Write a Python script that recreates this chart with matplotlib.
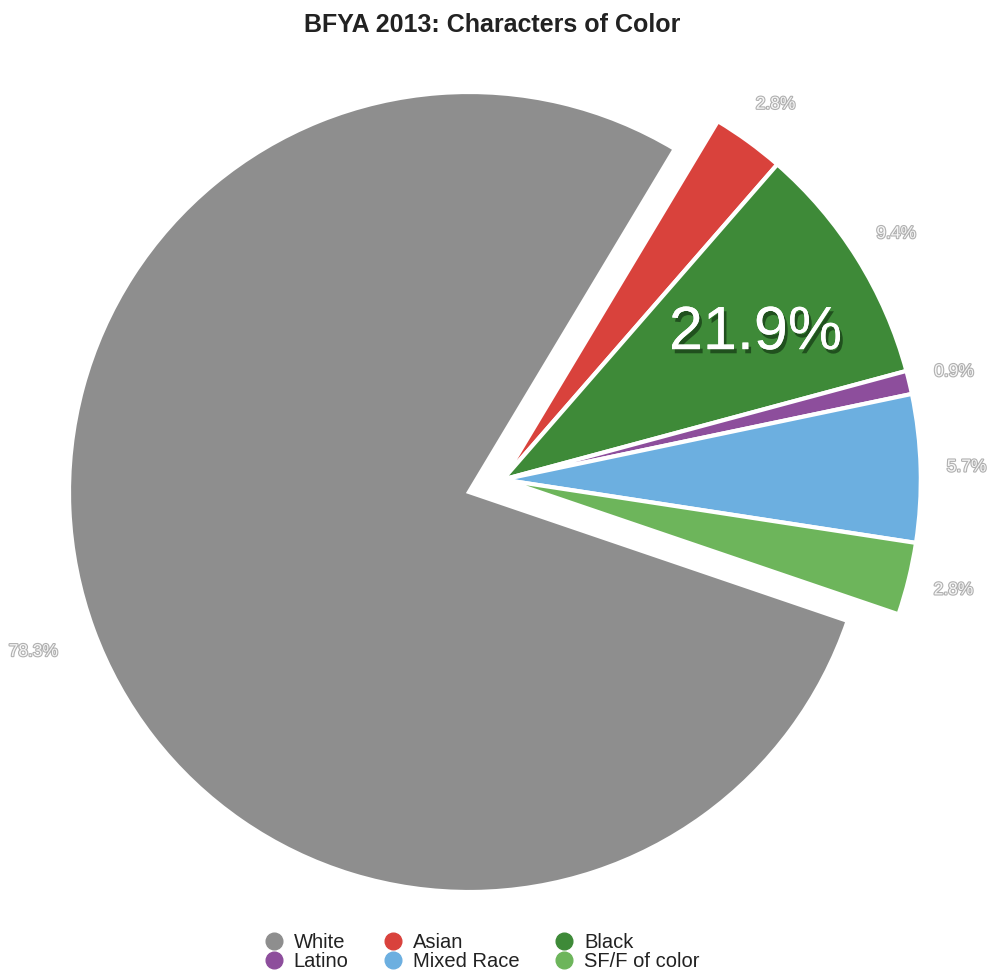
import matplotlib
matplotlib.use("Agg")
import matplotlib.pyplot as plt
import matplotlib.patheffects as pe
from matplotlib.lines import Line2D
import numpy as np

# data
categories = ['White', 'Asian', 'Black', 'Latino', 'Mixed Race', 'SF/F of color']
values = [78.3, 2.8, 9.4, 0.9, 5.7, 2.8]
pct_labels = ['78.3%', '2.8%', '9.4%', '0.9%', '5.7%', '2.8%']
highlight_label = '21.9%'
title = 'BFYA 2013: Characters of Color'

colors = ['#8e8e8e', '#d9423c', '#3e8a38', '#8d4e9c', '#6cafe0', '#6db55b']

plt.rcParams['font.family'] = ['Liberation Sans', 'DejaVu Sans']

fig = plt.figure(figsize=(9.95, 9.76), dpi=100)
ax = fig.add_axes([0, 0, 1, 1])

start = -18.8
wedges, texts = ax.pie(values, colors=colors, startangle=start, counterclock=False,
                       labels=pct_labels, labeldistance=1.16,
                       wedgeprops=dict(edgecolor='white', linewidth=3),
                       textprops=dict(ha='center', va='center', fontsize=12.5,
                                      color='#f6f6f6'))

# pull the coloured group out together (slightly larger radius too)
cfrac = sum(values[1:]) / sum(values)
mid = np.deg2rad(start + 180 * cfrac)
offx, offy = 0.09 * np.cos(mid), 0.09 * np.sin(mid)
for w in wedges[1:]:
    w.set_center((offx, offy))
    w.set_radius(1.045)
for t in texts[1:]:
    x, y = t.get_position()
    t.set_position((x + offx, y + offy))
for t in texts:
    t.set_path_effects([pe.withStroke(linewidth=1.6, foreground='#b0b0b0')])

ang = np.deg2rad(30)
ax.text(offx + 0.73 * np.cos(ang), offy + 0.73 * np.sin(ang), highlight_label,
        ha='center', va='center', fontsize=44, color='white',
        path_effects=[pe.withSimplePatchShadow(offset=(2, -3), shadow_rgbFace='#0d2a0d', alpha=0.6),
                      pe.Normal()])

ax.set_aspect('auto')
ax.set_xlim(-1.1725, 1.315)
ax.set_ylim(-1.21, 1.23)
ax.axis('off')

fig.text(0.4945, 1 - 32 / 976, title, ha='center', va='baseline',
         fontsize=18, fontweight='bold', color='#222222')

handles = [Line2D([0], [0], marker='o', ls='', markerfacecolor=c, markeredgecolor=c,
                  markersize=12) for c in colors]
order = [0, 3, 1, 4, 2, 5]
fig.legend([handles[i] for i in order], [categories[i] for i in order],
           loc='center', bbox_to_anchor=(0.483, 0.0246), ncol=3, frameon=False,
           fontsize=14.5, labelspacing=0.0, columnspacing=1.6,
           handletextpad=0.4, handlelength=1.2, labelcolor='#222222')

fig.savefig('out.png', dpi=100)
